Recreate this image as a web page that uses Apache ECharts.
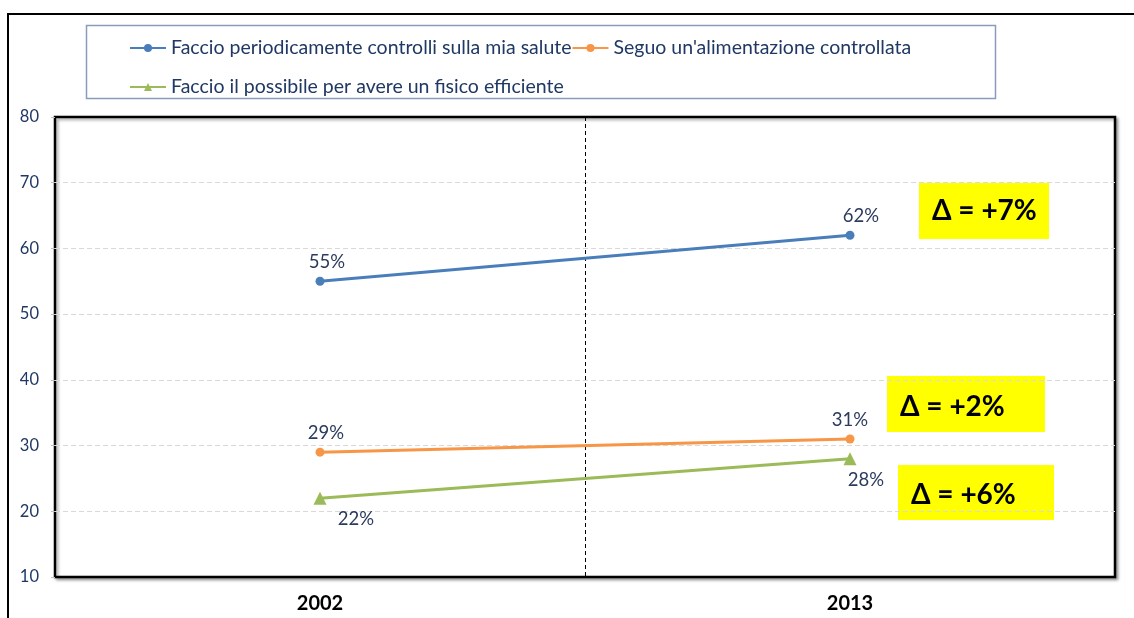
<!DOCTYPE html>
<html>
<head>
<meta charset="utf-8">
<title>Salute e stili di vita 2002-2013</title>
<script src="https://cdn.jsdelivr.net/npm/echarts@6/dist/echarts.min.js"></script>
<style>
  html, body { margin: 0; padding: 0; background: #ffffff; }
  #chart { width: 1134px; height: 618px; }
</style>
</head>
<body>
<div id="chart"></div>
<script>
// Anni di rilevazione
const years = ['2002', '2013'];

// Nomi delle serie
const seriesNames = [
  'Faccio periodicamente controlli sulla mia salute',
  "Seguo un'alimentazione controllata",
  'Faccio il possibile per avere un fisico efficiente'
];

// Percentuali per anno
const controlli = [55, 62];
const alimentazione = [29, 31];
const fisico = [22, 28];

// Tacche dell'asse verticale
const yMin = 10;
const yMax = 80;
const yStep = 10;

const FONT = 'Lato';
const LABEL_COLOR = '#2b3b5e';

const chart = echarts.init(document.getElementById('chart'), null, { renderer: 'canvas' });

function deltaText(values) {
  const d = values[values.length - 1] - values[0];
  return '\u0394 = ' + (d >= 0 ? '+' : '') + d + '%';
}

// Riquadro giallo con la variazione
function deltaBox(values, left, top, w, h, textY) {
  return {
    type: 'group',
    children: [
      { type: 'rect', x: left, y: top, shape: { width: w, height: h }, style: { fill: '#ffff00' } },
      {
        type: 'text', x: left + 13, y: textY,
        style: {
          text: deltaText(values),
          font: 'bold 28px ' + FONT,
          fill: '#000000',
          verticalAlign: 'middle',
          align: 'left'
        }
      }
    ]
  };
}

function makeSeries(name, values, color, symbol, symbolSize, labelPos, offsets) {
  return {
    name: name,
    type: 'line',
    data: values.map((v, i) => ({
      value: v,
      label: { offset: offsets[i] }
    })),
    symbol: symbol,
    symbolSize: symbolSize,
    lineStyle: { color: color, width: 3 },
    itemStyle: { color: color },
    label: {
      show: true,
      position: labelPos,
      distance: 5,
      formatter: '{c}%',
      color: LABEL_COLOR,
      fontFamily: FONT,
      fontSize: 18.5
    },
    emphasis: { disabled: true },
    animation: false
  };
}

const legendText = { fontFamily: FONT, fontSize: 19.5, color: '#1f3864' };

const option = {
  backgroundColor: '#ffffff',
  animation: false,
  legend: [
    {
      data: [seriesNames[0], seriesNames[1]],
      left: 129, top: 38, padding: 0,
      itemWidth: 36, itemHeight: 10, itemGap: 0,
      textStyle: legendText,
      selectedMode: false
    },
    {
      data: [seriesNames[2]],
      left: 129, top: 77, padding: 0,
      itemWidth: 36, itemHeight: 10,
      textStyle: legendText,
      selectedMode: false
    }
  ],
  grid: {
    left: 55, right: 19, top: 117, bottom: 41,
    show: true,
    backgroundColor: '#ffffff',
    borderColor: '#000000',
    borderWidth: 2.5,
    shadowColor: 'rgba(0,0,0,0.35)',
    shadowBlur: 3,
    shadowOffsetX: 2,
    shadowOffsetY: 2
  },
  xAxis: {
    type: 'category',
    data: years,
    boundaryGap: true,
    axisLine: { show: false },
    axisTick: { show: false },
    splitLine: {
      show: true, showMinLine: false, showMaxLine: false,
      lineStyle: { color: '#000000', type: [4, 3], width: 1 }
    },
    axisLabel: {
      margin: 17,
      color: '#000000',
      fontFamily: FONT,
      fontWeight: 'bold',
      fontSize: 20
    }
  },
  yAxis: {
    type: 'value',
    min: yMin, max: yMax, interval: yStep,
    axisLine: { show: false },
    axisTick: { show: true, length: 4, lineStyle: { color: '#bfbfbf' } },
    splitLine: {
      show: true, showMinLine: false, showMaxLine: false,
      lineStyle: { color: '#d9d9d9', type: [5, 3], width: 1 }
    },
    axisLabel: {
      margin: 16,
      color: '#1f3864',
      fontFamily: FONT,
      fontSize: 16.5
    }
  },
  series: [
    makeSeries(seriesNames[0], controlli, '#4a7ebb', 'circle', 9, 'top', [[7, 0], [11, 0]]),
    makeSeries(seriesNames[1], alimentazione, '#f79646', 'circle', 9, 'top', [[6, 0], [0, 0]]),
    makeSeries(seriesNames[2], fisico, '#9bbb59', 'triangle', 13, 'bottom', [[36, 0], [16, 0]])
  ],
  graphic: [
    // cornice esterna (lati superiore e sinistro)
    {
      type: 'polyline',
      shape: { points: [[1134, 14], [8, 14], [8, 618]] },
      style: { stroke: '#000000', lineWidth: 2, fill: null }
    },
    // riquadro della legenda
    {
      type: 'rect',
      shape: { x: 86.5, y: 25.5, width: 909, height: 73 },
      style: { stroke: '#8a9bbb', lineWidth: 1.5, fill: null }
    },
    deltaBox(controlli, 919, 183, 130, 56, 211),
    deltaBox(alimentazione, 887, 376, 158, 56, 407),
    deltaBox(fisico, 898, 465, 156, 55, 495)
  ]
};

chart.setOption(option);
</script>
</body>
</html>
